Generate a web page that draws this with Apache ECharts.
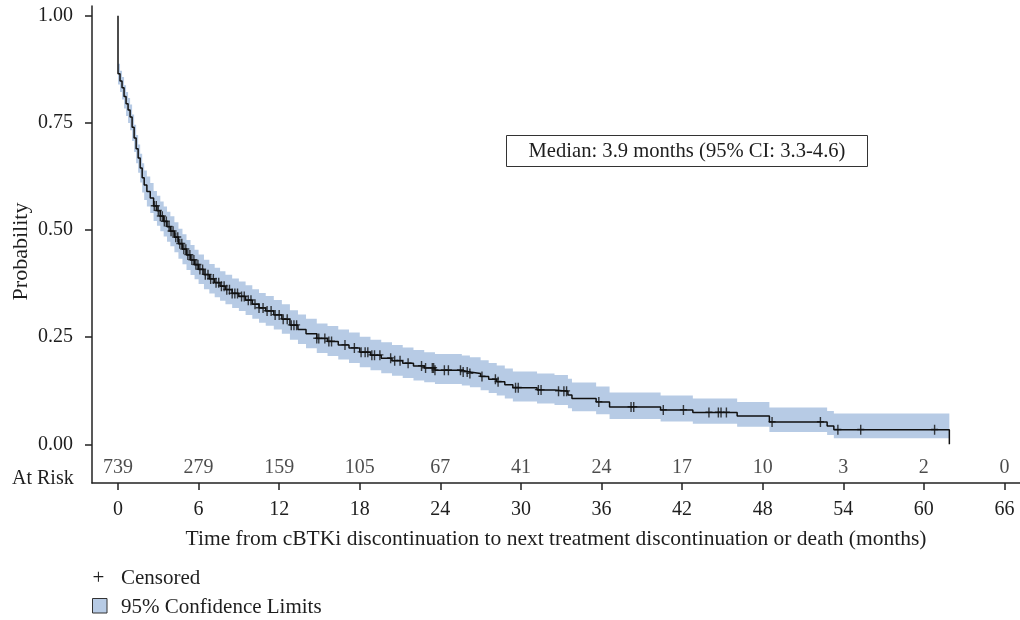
<!DOCTYPE html>
<html>
<head>
<meta charset="utf-8">
<script src="https://cdn.jsdelivr.net/npm/echarts@6/dist/echarts.min.js"></script>
<style>
  html, body { margin: 0; padding: 0; background: #ffffff; }
  #chart { width: 1020px; height: 620px; }
</style>
</head>
<body>
<div id="chart"></div>
<script>
// ---- Data ----
// Kaplan-Meier step times (months) and survival probability
var stepTimes = [0, 0, 0.15, 0.3, 0.45, 0.6, 0.75, 0.9, 1.05, 1.2, 1.35, 1.5, 1.65, 1.8, 1.95, 2.15, 2.4, 2.65, 2.9, 3.15, 3.4, 3.65, 3.9, 4.2, 4.5, 4.8, 5.1, 5.4, 5.7, 6.0, 6.4, 6.8, 7.2, 7.6, 8.0, 8.5, 9.0, 9.5, 10.0, 10.5, 11.0, 11.6, 12.2, 12.8, 13.4, 14.0, 14.8, 15.6, 16.4, 17.2, 18.0, 18.8, 19.6, 20.4, 21.2, 22.0, 22.8, 23.6, 25.6, 26.2, 27.0, 27.6, 28.2, 28.8, 29.4, 31.2, 32.5, 33.5, 33.8, 35.6, 36.6, 40.4, 42.8, 46.1, 48.5, 52.8, 53.3, 61.9];
var survival = [1.0, 0.865, 0.848, 0.832, 0.812, 0.795, 0.78, 0.764, 0.74, 0.715, 0.69, 0.668, 0.645, 0.622, 0.605, 0.59, 0.575, 0.556, 0.545, 0.532, 0.52, 0.508, 0.497, 0.483, 0.468, 0.455, 0.442, 0.43, 0.419, 0.408, 0.396, 0.386, 0.377, 0.369, 0.361, 0.352, 0.345, 0.336, 0.327, 0.318, 0.311, 0.302, 0.292, 0.278, 0.268, 0.258, 0.247, 0.24, 0.232, 0.225, 0.215, 0.208, 0.201, 0.195, 0.189, 0.183, 0.178, 0.173, 0.169, 0.165, 0.158, 0.152, 0.146, 0.139, 0.132, 0.127, 0.124, 0.115, 0.107, 0.099, 0.087, 0.080, 0.074, 0.066, 0.052, 0.043, 0.034, 0.0];

// 95% confidence limits (band starts after the time-0 drop)
var ciTimes = [0, 0.15, 0.3, 0.45, 0.6, 0.75, 0.9, 1.05, 1.2, 1.35, 1.5, 1.65, 1.8, 1.95, 2.15, 2.4, 2.65, 2.9, 3.15, 3.4, 3.65, 3.9, 4.2, 4.5, 4.8, 5.1, 5.4, 5.7, 6.0, 6.4, 6.8, 7.2, 7.6, 8.0, 8.5, 9.0, 9.5, 10.0, 10.5, 11.0, 11.6, 12.2, 12.8, 13.4, 14.0, 14.8, 15.6, 16.4, 17.2, 18.0, 18.8, 19.6, 20.4, 21.2, 22.0, 22.8, 23.6, 25.6, 26.2, 27.0, 27.6, 28.2, 28.8, 29.4, 31.2, 32.5, 33.5, 33.8, 35.6, 36.6, 40.4, 42.8, 46.1, 48.5, 52.8, 53.3, 61.9];
var ciLower = [0.84, 0.822, 0.805, 0.784, 0.766, 0.75, 0.733, 0.708, 0.682, 0.656, 0.634, 0.611, 0.588, 0.57, 0.555, 0.54, 0.521, 0.51, 0.497, 0.485, 0.473, 0.462, 0.448, 0.433, 0.42, 0.407, 0.395, 0.385, 0.374, 0.362, 0.352, 0.343, 0.335, 0.327, 0.318, 0.311, 0.302, 0.293, 0.284, 0.277, 0.268, 0.258, 0.244, 0.234, 0.224, 0.213, 0.206, 0.198, 0.19, 0.18, 0.173, 0.166, 0.16, 0.155, 0.149, 0.145, 0.141, 0.137, 0.133, 0.126, 0.12, 0.114, 0.107, 0.1, 0.095, 0.092, 0.084, 0.077, 0.07, 0.059, 0.053, 0.048, 0.041, 0.029, 0.022, 0.014, 0.014];
var ciUpper = [0.888, 0.872, 0.857, 0.838, 0.822, 0.808, 0.793, 0.77, 0.746, 0.722, 0.7, 0.678, 0.656, 0.639, 0.625, 0.61, 0.591, 0.58, 0.567, 0.555, 0.543, 0.532, 0.518, 0.503, 0.49, 0.477, 0.465, 0.454, 0.443, 0.431, 0.421, 0.412, 0.404, 0.396, 0.387, 0.38, 0.371, 0.362, 0.353, 0.346, 0.337, 0.327, 0.313, 0.303, 0.293, 0.282, 0.276, 0.268, 0.261, 0.251, 0.244, 0.238, 0.232, 0.226, 0.22, 0.215, 0.211, 0.207, 0.203, 0.196, 0.19, 0.184, 0.177, 0.17, 0.165, 0.162, 0.153, 0.144, 0.135, 0.121, 0.114, 0.107, 0.099, 0.086, 0.078, 0.072, 0.072];

// Censoring times (months)
var censorTimes = [2.7, 2.85, 3.0, 3.15, 3.3, 3.45, 3.6, 3.8, 3.95, 4.1, 4.3, 4.45, 4.6, 4.75, 4.9, 5.05, 5.2, 5.35, 5.5, 5.65, 5.8, 5.95, 6.1, 6.3, 6.5, 6.7, 6.9, 7.1, 7.3, 7.5, 7.7, 7.9, 8.1, 8.3, 8.5, 8.7, 8.9, 9.2, 9.4, 9.7, 9.9, 10.2, 10.5, 10.8, 11.1, 11.4, 11.7, 12.0, 12.3, 12.6, 12.9, 13.1, 13.3, 14.8, 14.95, 15.4, 15.7, 15.9, 16.9, 17.6, 18.1, 18.4, 18.6, 18.9, 19.1, 19.5, 20.3, 20.6, 21.0, 21.6, 22.6, 22.9, 23.4, 23.5, 23.6, 24.3, 24.6, 25.5, 25.7, 26.0, 26.2, 27.1, 28.1, 28.3, 29.6, 29.8, 31.3, 31.5, 32.8, 33.2, 33.4, 35.8, 38.2, 38.4, 40.6, 42.1, 44.0, 44.7, 44.9, 45.3, 48.7, 52.3, 53.6, 55.3, 60.8];

// Number at risk
var atRiskTimes = [0, 6, 12, 18, 24, 30, 36, 42, 48, 54, 60, 66];
var atRiskCounts = [739, 279, 159, 105, 67, 41, 24, 17, 10, 3, 2, 0];

// Axis tick labels
var xTicks = [0, 6, 12, 18, 24, 30, 36, 42, 48, 54, 60, 66];
var yTicks = [0, 0.25, 0.5, 0.75, 1.0];

// ---- Build series data ----
function survAt(t) {
  var s = survival[0];
  for (var i = 0; i < stepTimes.length; i++) {
    if (stepTimes[i] <= t) s = survival[i]; else break;
  }
  return s;
}
var kmData = stepTimes.map(function (t, i) { return [t, survival[i]]; });
var bandData = ciTimes.map(function (t, i) { return [t, ciLower[i], ciUpper[i]]; });
var censorData = censorTimes.map(function (t) { return [t, survAt(t)]; });
var RISK_ROW_Y = -0.055; // vertical placement of the at-risk row (axis units)
var riskData = atRiskTimes.map(function (t, i) { return [t, RISK_ROW_Y, atRiskCounts[i]]; });

var FONT = '"Liberation Serif", "Times New Roman", serif';
var TXT = '#1e1e1e';
var BAND = '#b7cbe5';
var PLUS = 'path://M28,0H42V40H70V54H42V100H28V54H0V40H28Z';
var FS = 20;   // tick labels and at-risk numbers
var FS2 = 21;  // other text

// Step-shaped confidence band drawn as one polygon through the axes
function renderBand(params, api) {
  if (params.dataIndex !== 0) return null;
  var n = bandData.length, top = [], bot = [];
  for (var i = 0; i < n; i++) {
    top.push(api.coord([bandData[i][0], bandData[i][2]]));
    bot.push(api.coord([bandData[i][0], bandData[i][1]]));
    if (i < n - 1) {
      top.push(api.coord([bandData[i + 1][0], bandData[i][2]]));
      bot.push(api.coord([bandData[i + 1][0], bandData[i][1]]));
    }
  }
  return {
    type: 'polygon',
    shape: { points: top.concat(bot.reverse()) },
    style: { fill: BAND, stroke: null }
  };
}

var chart = echarts.init(document.getElementById('chart'), null, { renderer: 'canvas' });
chart.setOption({
  animation: false,
  backgroundColor: '#ffffff',
  textStyle: { fontFamily: FONT, color: TXT },
  grid: { left: 92, right: 0, top: 6, bottom: 137, containLabel: false, outerBoundsMode: 'none' },
  xAxis: {
    type: 'value',
    min: -1.936,
    max: 67.16,
    name: 'Time from cBTKi discontinuation to next treatment discontinuation or death (months)',
    nameLocation: 'middle',
    nameGap: 45,
    nameMoveOverlap: false,
    nameTextStyle: { fontFamily: FONT, fontSize: 21.5, color: TXT },
    splitLine: { show: false },
    axisLine: { show: true, onZero: false, lineStyle: { color: '#222', width: 1.5 } },
    axisTick: { show: true, length: 7, customValues: xTicks, lineStyle: { color: '#222', width: 1.5 } },
    axisLabel: { customValues: xTicks, margin: 17, fontFamily: FONT, fontSize: FS, color: TXT }
  },
  yAxis: {
    type: 'value',
    min: -0.0903,
    max: 1.023,
    name: 'Probability',
    nameLocation: 'middle',
    nameGap: 60,
    nameMoveOverlap: false,
    nameTextStyle: { fontFamily: FONT, fontSize: 22, color: TXT, padding: [0, 14, 0, 0] },
    splitLine: { show: false },
    axisLine: { show: true, onZero: false, lineStyle: { color: '#222', width: 1.5 } },
    axisTick: { show: true, length: 7, customValues: yTicks, lineStyle: { color: '#222', width: 1.5 } },
    axisLabel: {
      customValues: yTicks, margin: 19, fontFamily: FONT, fontSize: FS, color: TXT,
      formatter: function (v) { return v.toFixed(2); }
    }
  },
  series: [
    {
      name: '95% Confidence Limits', type: 'custom', renderItem: renderBand,
      data: bandData, encode: { x: 0, y: [1, 2] }, itemStyle: { color: BAND },
      silent: true, z: 1
    },
    {
      name: 'Survival', type: 'line', step: 'end', symbol: 'none',
      data: kmData, lineStyle: { color: '#111', width: 1.5 }, z: 3
    },
    {
      name: 'Censored', type: 'scatter', symbol: PLUS, symbolSize: [7, 10],
      data: censorData, itemStyle: { color: '#111' }, z: 4
    },
    {
      name: 'At Risk', type: 'scatter', symbolSize: 0, data: riskData,
      label: {
        show: true, position: 'inside', fontFamily: FONT, fontSize: FS, color: TXT,
        formatter: function (p) { return String(p.value[2]); }
      },
      z: 5
    }
  ],
  graphic: [
    {
      type: 'text', left: 12, top: 469, z: 100,
      style: { text: 'At Risk', font: FS + 'px ' + FONT, fill: TXT }
    },
    {
      type: 'group', left: 506, top: 135, z: 100,
      children: [
        { type: 'rect', shape: { x: 0, y: 0, width: 361, height: 31 },
          style: { fill: '#fff', stroke: '#333', lineWidth: 1 } },
        { type: 'text', x: 180.5, y: 16,
          style: { text: 'Median: 3.9 months (95% CI: 3.3-4.6)', font: '20.6px ' + FONT, fill: TXT,
                   textAlign: 'center', textVerticalAlign: 'middle' } }
      ]
    },
    // legend
    { type: 'text', x: 98.5, y: 578, z: 100,
      style: { text: '+', font: FS2 + 'px ' + FONT, fill: TXT, textAlign: 'center', textVerticalAlign: 'middle' } },
    { type: 'text', x: 121, y: 578, z: 100,
      style: { text: 'Censored', font: FS2 + 'px ' + FONT, fill: TXT, textAlign: 'left', textVerticalAlign: 'middle' } },
    { type: 'rect', z: 100, shape: { x: 92.5, y: 598.5, width: 14.5, height: 14.5 },
      style: { fill: BAND, stroke: '#333', lineWidth: 1 } },
    { type: 'text', x: 121, y: 607, z: 100,
      style: { text: '95% Confidence Limits', font: FS2 + 'px ' + FONT, fill: TXT, textAlign: 'left', textVerticalAlign: 'middle' } }
  ]
});
</script>
</body>
</html>
